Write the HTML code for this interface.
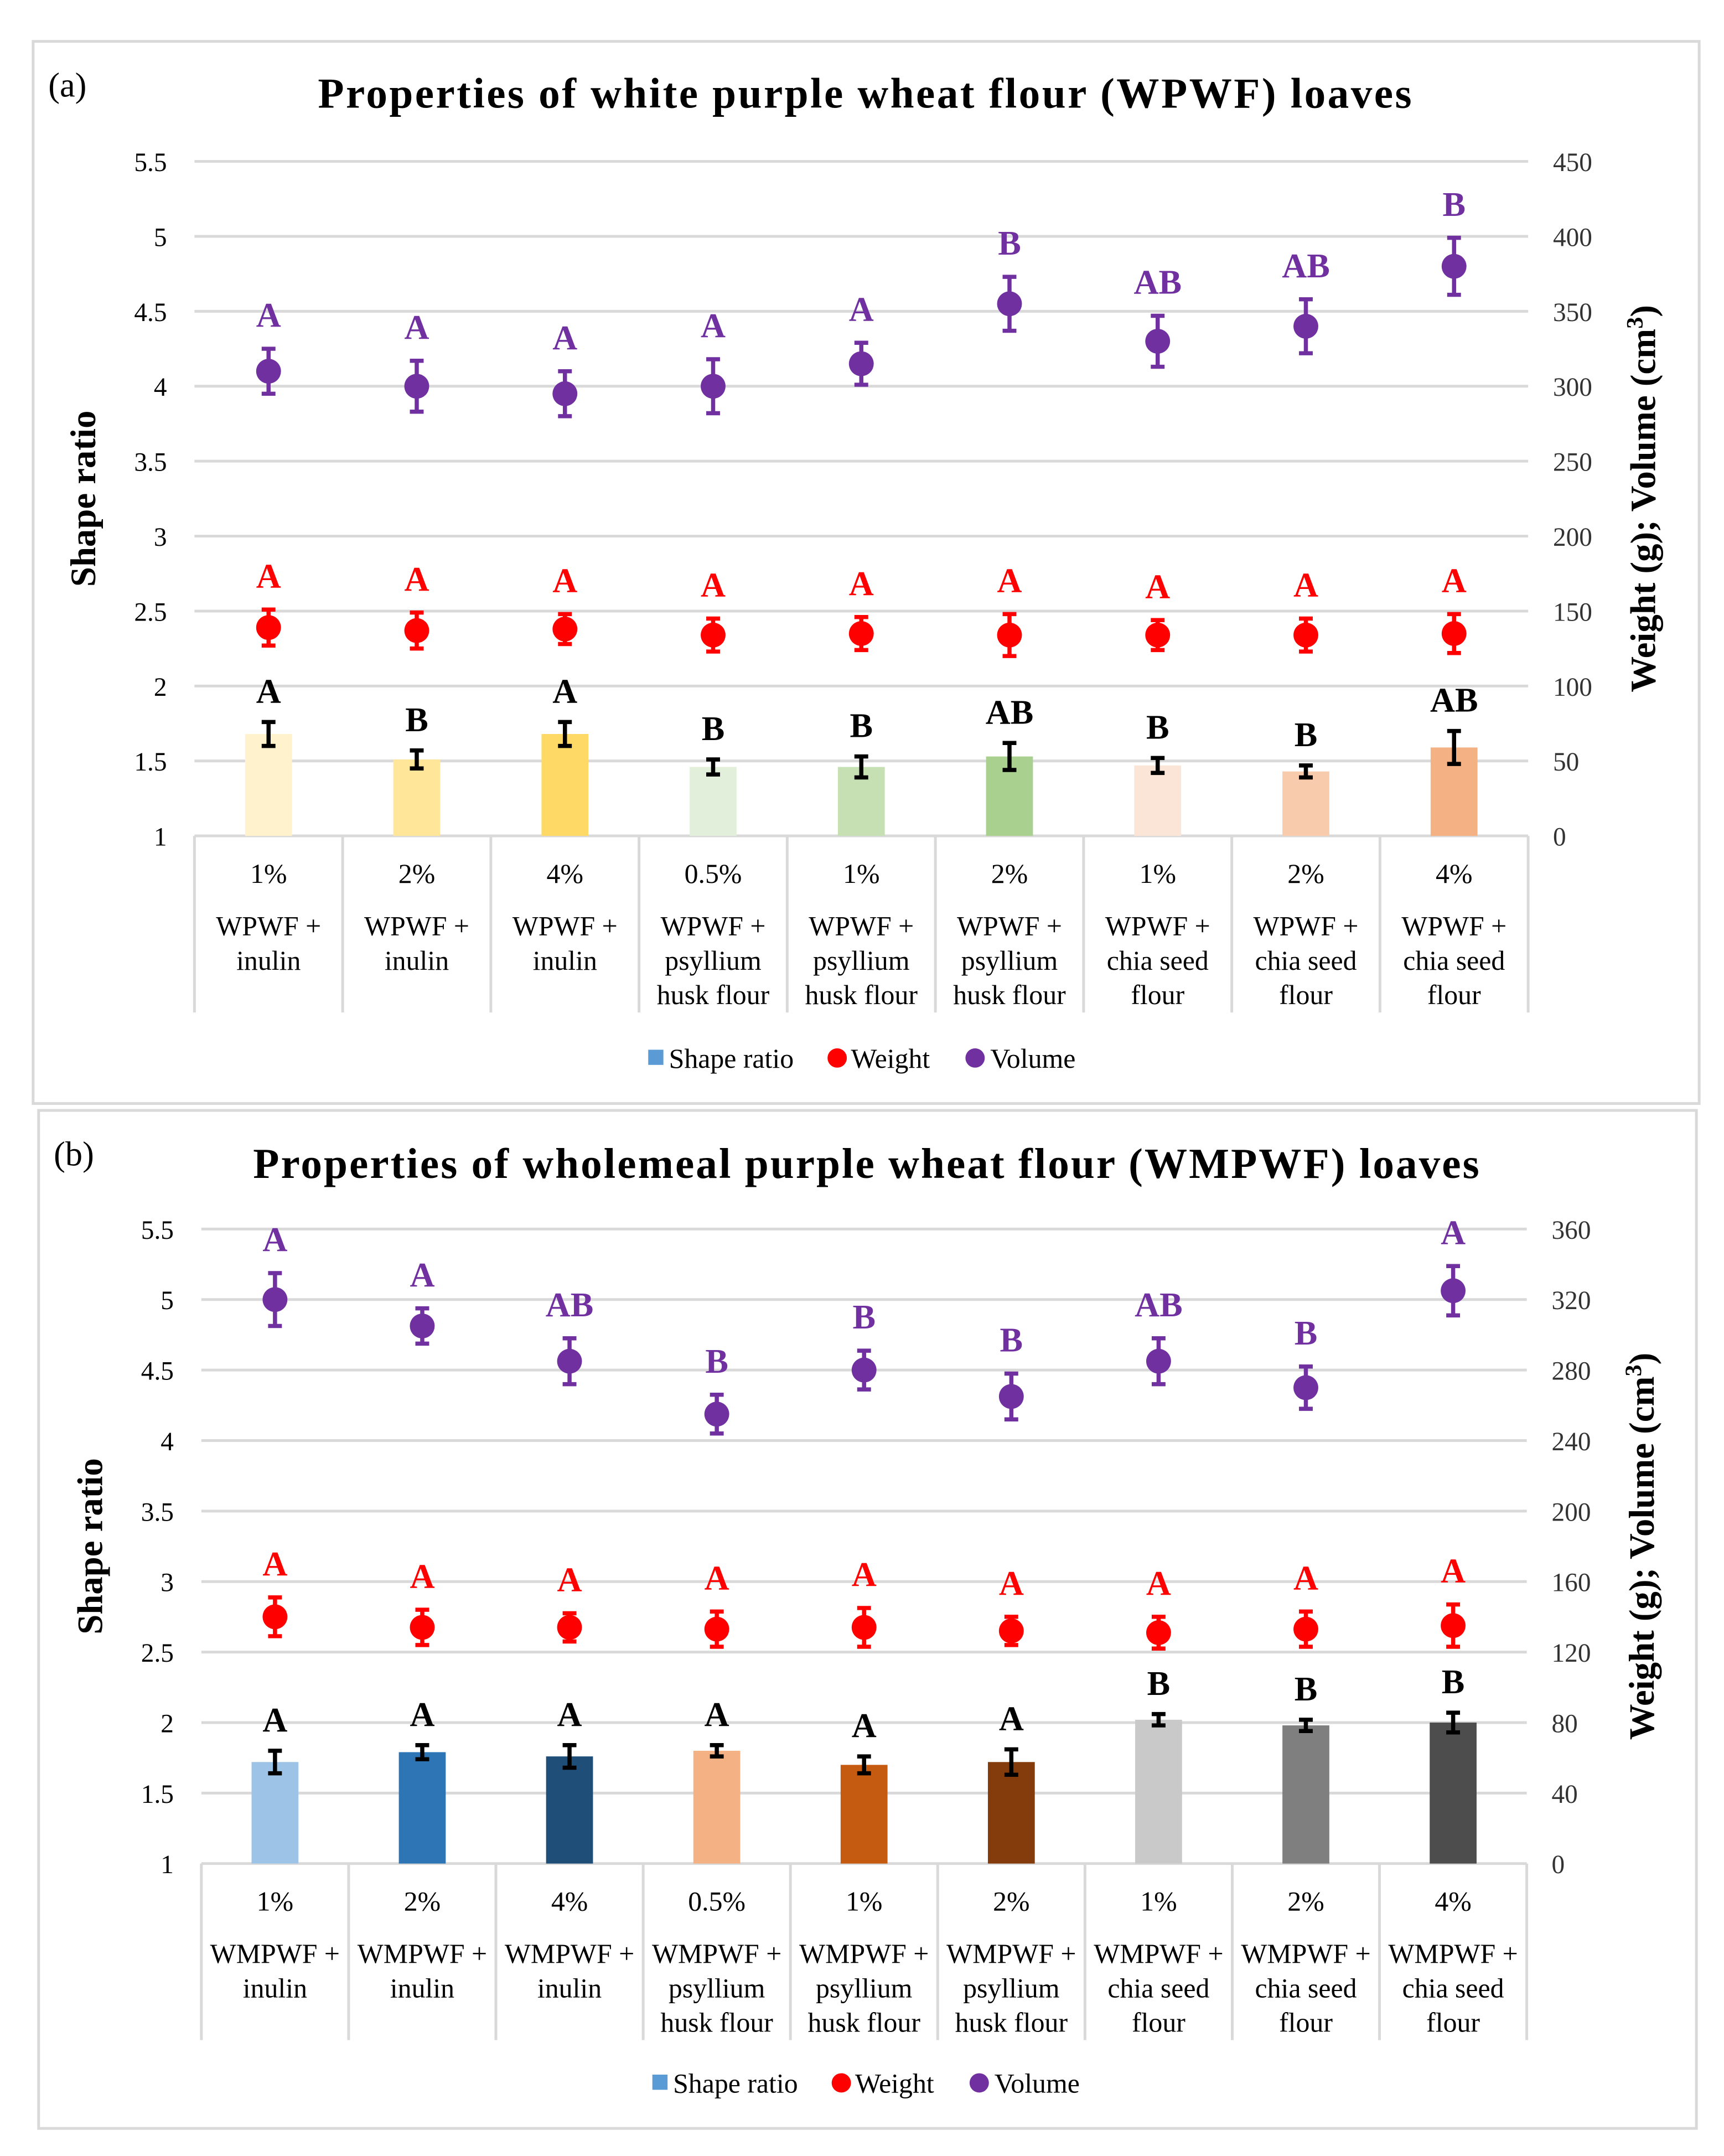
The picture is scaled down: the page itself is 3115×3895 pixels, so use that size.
<!DOCTYPE html>
<html><head><meta charset="utf-8">
<style>
html,body{margin:0;padding:0;background:#fff;}
svg{display:block;font-family:"Liberation Serif",serif;}
</style></head>
<body>
<svg id="chart" width="3115" height="3895" viewBox="0 0 1250 1563" preserveAspectRatio="none" xmlns="http://www.w3.org/2000/svg">
<rect x="0" y="0" width="1250" height="1563" fill="#fff"/>
</svg>
<script>
const catPctA=["1%","2%","4%","0.5%","1%","2%","1%","2%","4%"];
const catNameA=[["WPWF +","inulin"],["WPWF +","inulin"],["WPWF +","inulin"],["WPWF +","psyllium","husk flour"],["WPWF +","psyllium","husk flour"],["WPWF +","psyllium","husk flour"],["WPWF +","chia seed","flour"],["WPWF +","chia seed","flour"],["WPWF +","chia seed","flour"]];
const shapeA=[1.68,1.51,1.68,1.46,1.46,1.53,1.47,1.43,1.59];
const shapeErrA=[0.08,0.06,0.08,0.05,0.07,0.09,0.05,0.04,0.11];
const shapeLetA=["A","B","A","B","B","AB","B","B","AB"];
const weightA=[139,137,138,134,135,134,134,134,135];
const weightErrA=[12,12,10,11,11,14,10,11,13];
const weightLetA=["A","A","A","A","A","A","A","A","A"];
const volumeA=[310,300,295,300,315,355,330,340,380];
const volumeErrA=[15,17,15,18,14,18,17,18,19];
const volumeLetA=["A","A","A","A","A","B","AB","AB","B"];
const leftTicksA=["1","1.5","2","2.5","3","3.5","4","4.5","5","5.5"];
const rightTicksA=["0","50","100","150","200","250","300","350","400","450"];
const colorsA=["#FFF2CC","#FFE699","#FFD966","#E2EFDA","#C6E0B4","#A9D08E","#FBE5D6","#F8CBAD","#F4B183"];

const catPctB=["1%","2%","4%","0.5%","1%","2%","1%","2%","4%"];
const catNameB=[["WMPWF +","inulin"],["WMPWF +","inulin"],["WMPWF +","inulin"],["WMPWF +","psyllium","husk flour"],["WMPWF +","psyllium","husk flour"],["WMPWF +","psyllium","husk flour"],["WMPWF +","chia seed","flour"],["WMPWF +","chia seed","flour"],["WMPWF +","chia seed","flour"]];
const shapeB=[1.72,1.79,1.76,1.80,1.70,1.72,2.02,1.98,2.00];
const shapeErrB=[0.08,0.05,0.08,0.04,0.06,0.09,0.04,0.04,0.07];
const shapeLetB=["A","A","A","A","A","A","B","B","B"];
const weightB=[140,134,134,133,134,132,131,133,135];
const weightErrB=[11,10,8,10,11,8,9,10,12];
const weightLetB=["A","A","A","A","A","A","A","A","A"];
const volumeB=[320,305,285,255,280,265,285,270,325];
const volumeErrB=[15,10,13,11,11,13,13,12,14];
const volumeLetB=["A","A","AB","B","B","B","AB","B","A"];
const leftTicksB=["1","1.5","2","2.5","3","3.5","4","4.5","5","5.5"];
const rightTicksB=["0","40","80","120","160","200","240","280","320","360"];
const colorsB=["#9DC3E6","#2E75B6","#1F4E79","#F4B183","#C55A11","#843C0C","#C9C9C9","#7F7F7F","#4D4D4D"];

const NS="http://www.w3.org/2000/svg";
const svg=document.getElementById('chart');
function mk(tag,attrs,parent,text){const e=document.createElementNS(NS,tag);for(const k in attrs)e.setAttribute(k,attrs[k]);if(text!==undefined)e.textContent=text;(parent||svg).appendChild(e);return e;}

function panel(p){
  const g=mk('g',{});
  
  
  const fr=mk('rect',{x:p.box[0],y:p.box[1],width:p.box[2]-p.box[0],height:p.box[3]-p.box[1],fill:'none',stroke:'#d9d9d9','stroke-width':2},g);
  
  const lab=mk('text',{x:p.box[0]+11,y:p.box[1]+40,'font-size':25},g,p.label);
  
  const t=mk('text',{x:p.titleX,y:p.titleY,'font-size':31,'font-weight':'bold','text-anchor':'middle',textLength:p.titleW,lengthAdjust:'spacing'},g,p.title);
  
  const lmin=1,lmax=5.5,rmax=p.rmax;
  const yl=v=>p.B-(v-lmin)/(lmax-lmin)*(p.B-p.T);
  const yr=v=>p.B-v/rmax*(p.B-p.T);
  const n=p.shape.length,cw=(p.R-p.L)/n;
  const xc=i=>p.L+cw*(i+0.5);
  p.lt.forEach((s,i)=>{const v=parseFloat(s);const y=yl(v);
    const gl=mk('line',{x1:p.L,x2:p.R,y1:y,y2:y,stroke:'#d9d9d9','stroke-width':2},g);
    
    const tl=mk('text',{x:p.L-20,y:y+7,'font-size':19,'text-anchor':'end'},g,s);
    });
  p.rt.forEach(s=>{const y=yr(parseFloat(s));
    const tl=mk('text',{x:p.R+18,y:y+7,'font-size':19,fill:'#333'},g,s);
    });
  for(let i=0;i<=n;i++){const x=p.L+cw*i;
    const l=mk('line',{x1:x,x2:x,y1:p.B,y2:p.B+128,stroke:'#d9d9d9','stroke-width':2},g);
    }
  p.pct.forEach((s,i)=>{
    const tp=mk('text',{x:xc(i),y:p.B+34,'font-size':20,'text-anchor':'middle'},g,s);
    
    p.names[i].forEach((ln,j)=>{const tn=mk('text',{x:xc(i),y:p.B+72+j*25,'font-size':20,'text-anchor':'middle'},g,ln);
      });
  });
  p.shape.forEach((v,i)=>{
    const r=mk('rect',{x:xc(i)-17,y:yl(v),width:34,height:p.B-yl(v),fill:p.colors[i]},g);
    
    const e=p.shapeErr[i],yt=yl(v+e),yb=yl(v-e);
    const eb=mk('path',{d:`M${xc(i)},${yt}V${yb}M${xc(i)-5},${yt}H${xc(i)+5}M${xc(i)-5},${yb}H${xc(i)+5}`,stroke:'#000','stroke-width':3,fill:'none'},g);
    
    const lt=mk('text',{x:xc(i),y:yt-14,'font-size':25,'font-weight':'bold','text-anchor':'middle'},g,p.shapeLet[i]);
    
  });
  function pts(vals,errs,lets,color,nm){
    vals.forEach((v,i)=>{const x=xc(i),y=yr(v),yt=yr(v+errs[i]),yb=yr(v-errs[i]);
      const eb=mk('path',{d:`M${x},${yt}V${yb}M${x-5},${yt}H${x+5}M${x-5},${yb}H${x+5}`,stroke:color,'stroke-width':3,fill:'none'},g);
      
      const c=mk('circle',{cx:x,cy:y,r:9,fill:color},g);
      
      const lt=mk('text',{x:x,y:yt-16,'font-size':25,'font-weight':'bold','text-anchor':'middle',fill:color},g,lets[i]);
      
    });
  }
  pts(p.weight,p.weightErr,p.weightLet,'#FF0000','weight');
  pts(p.volume,p.volumeErr,p.volumeLet,'#7030A0','volume');
  const ya=mk('text',{x:0,y:0,'font-size':26,'font-weight':'bold','text-anchor':'middle',transform:`translate(${p.L-72},${(p.T+p.B)/2}) rotate(-90)`},g,'Shape ratio');
  
  const yb2=mk('text',{x:0,y:0,'font-size':26,'font-weight':'bold','text-anchor':'middle',transform:`translate(${p.R+92},${(p.T+p.B)/2}) rotate(-90)`},g);
  
  yb2.textContent='Weight (g); Volume (cm';
  mk('tspan',{dy:-9,'font-size':17},yb2,'3');
  mk('tspan',{dy:9},yb2,')');
  const lg=mk('g',{},g);
  const ly=p.legY;
  const s1=mk('rect',{x:p.legX,y:ly-6,width:11,height:11,fill:'#5B9BD5'},lg);
  
  const t1=mk('text',{x:p.legX+15,y:ly+7,'font-size':20},lg,'Shape ratio');
  
  const c2=mk('circle',{cx:p.legX+137,cy:ly,r:7,fill:'#FF0000'},lg);
  
  const t2=mk('text',{x:p.legX+147,y:ly+7,'font-size':20},lg,'Weight');
  
  const c3=mk('circle',{cx:p.legX+237,cy:ly,r:7,fill:'#7030A0'},lg);
  
  const t3=mk('text',{x:p.legX+248,y:ly+7,'font-size':20},lg,'Volume');
  
}

panel({id:'wpwf',label:'(a)',title:'Properties of white purple wheat flour (WPWF) loaves',box:[24,30,1232,800],titleY:78,titleX:627,titleW:793,
  L:141,R:1108,T:117,B:606,rmax:450,lt:leftTicksA,rt:rightTicksA,pct:catPctA,names:catNameA,shape:shapeA,shapeErr:shapeErrA,shapeLet:shapeLetA,
  weight:weightA,weightErr:weightErrA,weightLet:weightLetA,volume:volumeA,volumeErr:volumeErrA,volumeLet:volumeLetA,colors:colorsA,legX:470,legY:767});
panel({id:'wmpwf',label:'(b)',title:'Properties of wholemeal purple wheat flour (WMPWF) loaves',box:[28,805,1230,1543],titleY:854,titleX:628,titleW:889,
  L:146,R:1107,T:891,B:1351,rmax:360,lt:leftTicksB,rt:rightTicksB,pct:catPctB,names:catNameB,shape:shapeB,shapeErr:shapeErrB,shapeLet:shapeLetB,
  weight:weightB,weightErr:weightErrB,weightLet:weightLetB,volume:volumeB,volumeErr:volumeErrB,volumeLet:volumeLetB,colors:colorsB,legX:473,legY:1510});
</script>
</body></html>
